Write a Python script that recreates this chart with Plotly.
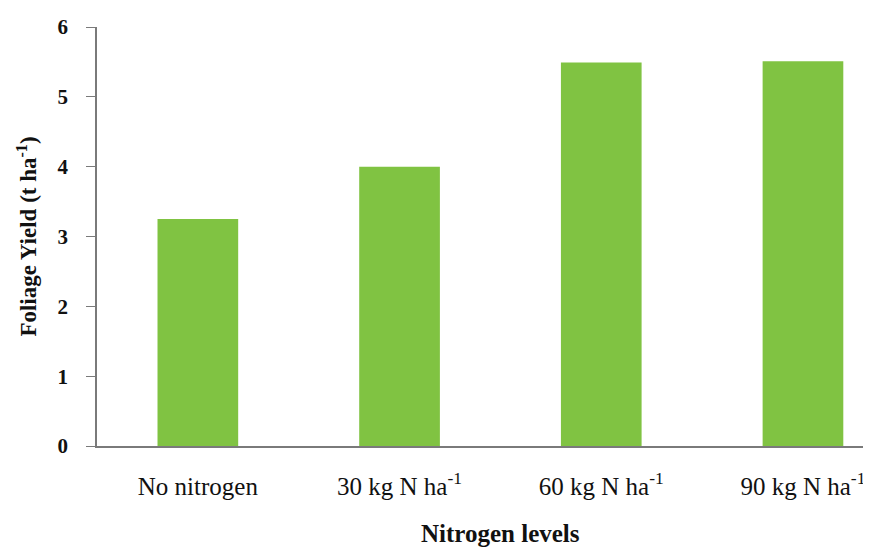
import plotly.graph_objects as go

categories = ["No nitrogen", "30 kg N ha<sup>-1</sup>", "60 kg N ha<sup>-1</sup>", "90 kg N ha<sup>-1</sup>"]
foliage_yield = [3.25, 4.0, 5.49, 5.51]
y_ticks = [0, 1, 2, 3, 4, 5, 6]
y_ticktext = ["<b>%d</b>" % v for v in y_ticks]

fig = go.Figure()
fig.add_trace(go.Bar(
    x=list(range(len(categories))),
    y=foliage_yield,
    marker=dict(color="#80c342", line=dict(width=0)),
    width=0.4,
))

fig.update_layout(
    width=871, height=547,
    margin=dict(l=89, r=0, t=19, b=109),
    paper_bgcolor="white", plot_bgcolor="white",
    font=dict(family="Liberation Serif", color="#111"),
    showlegend=False,
    xaxis=dict(
        range=[-0.5, 3.377],
        tickmode="array",
        tickvals=list(range(len(categories))),
        ticktext=categories,
        tickfont=dict(size=25, family="Liberation Serif"),
        ticklabelstandoff=17,
        showline=True, linecolor="#7a7a7a", linewidth=1.5,
        ticks="", showgrid=False, zeroline=False,
    ),
    yaxis=dict(
        range=[0, 6],
        tickmode="array",
        tickvals=y_ticks,
        ticktext=y_ticktext,
        tickfont=dict(size=21, family="Liberation Serif"),
        ticks="outside", ticklen=9, tickcolor="#7a7a7a", tickwidth=1,
        ticklabelstandoff=14,
        showline=True, linecolor="#7a7a7a", linewidth=1.5,
        showgrid=False, zeroline=False,
        title=dict(text="<b>Foliage Yield (t ha<sup>-1</sup>)</b>",
                   font=dict(size=23, family="Liberation Serif"), standoff=14),
    ),
)

fig.add_annotation(
    x=1.5, xref="x", y=-0.172, yref="paper", yanchor="top",
    text="<b>Nitrogen levels</b>", showarrow=False,
    font=dict(size=25, family="Liberation Serif", color="#111"),
)

fig.write_html("out.html")
